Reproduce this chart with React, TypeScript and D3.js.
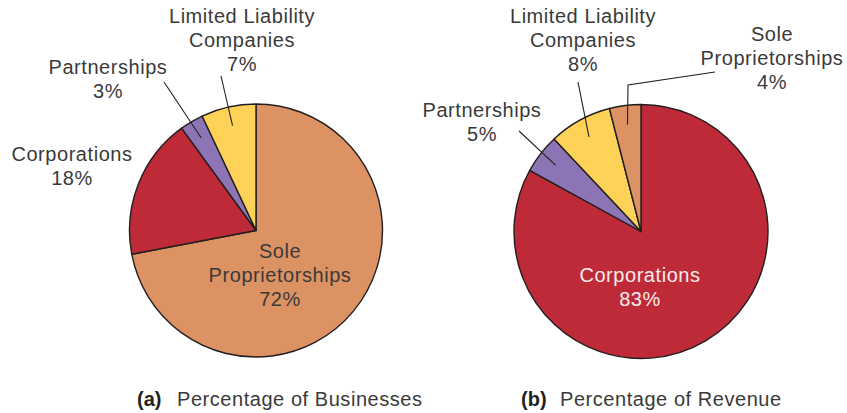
import React from "react";
import * as d3 from "d3";

const categoriesA = ["Sole Proprietorships", "Corporations", "Partnerships", "Limited Liability Companies"];
const valuesA = [72, 18, 3, 7];
const categoriesB = ["Corporations", "Partnerships", "Limited Liability Companies", "Sole Proprietorships"];
const valuesB = [83, 5, 8, 4];
const captionTags = ["(a)", "(b)"];
const captionTexts = ["Percentage of Businesses", "Percentage of Revenue"];

const colorMap: Record<string, string> = {
  "Sole Proprietorships": "#DC9263",
  "Corporations": "#BE2A38",
  "Partnerships": "#8D75B5",
  "Limited Liability Companies": "#FDD257",
};

const TEXT = "#3a3a3a";
const FONT = "'Liberation Sans', Arial, Helvetica, sans-serif";
const FS = 20;
const LS = 0.55;

type LabelSpec = {
  lines: string[];
  x: number;
  y: number; // baseline of first line
  color?: string;
  leader?: [number, number][];
};

function Pie({
  cats, vals, cx, cy, r, labels,
}: {
  cats: string[]; vals: number[]; cx: number; cy: number; r: number;
  labels: Record<string, LabelSpec>;
}) {
  const pie = d3.pie<number>().sort(null).value((d) => d)(vals);
  const arc = d3.arc<d3.PieArcDatum<number>>().innerRadius(0).outerRadius(r);
  const inner = d3.arc<d3.PieArcDatum<number>>().innerRadius(r * 0.85).outerRadius(r * 0.85);
  return (
    <g>
      <g transform={`translate(${cx},${cy})`}>
        {pie.map((p, i) => (
          <path key={i} d={arc(p) || ""} fill={colorMap[cats[i]]} stroke="#231f20" strokeWidth={1.4} strokeLinejoin="round" />
        ))}
      </g>
      {pie.map((p, i) => {
        const lab = labels[cats[i]];
        if (!lab || !lab.leader) return null;
        const c = inner.centroid(p);
        const pts = [...lab.leader, [cx + c[0], cy + c[1]]];
        return (
          <polyline key={"l" + i} points={pts.map((q) => q.join(",")).join(" ")} fill="none" stroke="#231f20" strokeWidth={1.1} />
        );
      })}
      {pie.map((p, i) => {
        const lab = labels[cats[i]];
        if (!lab) return null;
        return (
          <text key={"t" + i} x={lab.x} y={lab.y} textAnchor="middle" fontFamily={FONT} fontSize={FS} letterSpacing={LS} fill={lab.color || TEXT}>
            {lab.lines.map((ln, j) => (
              <tspan key={j} x={lab.x} dy={j === 0 ? 0 : 24}>{ln}</tspan>
            ))}
          </text>
        );
      })}
    </g>
  );
}

export default function App() {
  const labelsA: Record<string, LabelSpec> = {
    "Sole Proprietorships": { lines: ["Sole", "Proprietorships", `${valuesA[0]}%`], x: 280, y: 258 },
    "Corporations": { lines: ["Corporations", `${valuesA[1]}%`], x: 72, y: 161 },
    "Partnerships": { lines: ["Partnerships", `${valuesA[2]}%`], x: 108, y: 74, leader: [[164, 82]] },
    "Limited Liability Companies": { lines: ["Limited Liability", "Companies", `${valuesA[3]}%`], x: 242, y: 23, leader: [[221, 76]] },
  };
  const labelsB: Record<string, LabelSpec> = {
    "Corporations": { lines: ["Corporations", `${valuesB[0]}%`], x: 640, y: 282, color: "#f7ecec" },
    "Partnerships": { lines: ["Partnerships", `${valuesB[1]}%`], x: 482, y: 117, leader: [[519, 131]] },
    "Limited Liability Companies": { lines: ["Limited Liability", "Companies", `${valuesB[2]}%`], x: 583, y: 23, leader: [[578, 82]] },
    "Sole Proprietorships": { lines: ["Sole", "Proprietorships", `${valuesB[3]}%`], x: 772, y: 41, leader: [[715, 72], [628, 85]] },
  };
  const captions = [
    { x: 137, tx: 177 },
    { x: 521, tx: 560 },
  ];
  return (
    <svg width={847} height={413} style={{ position: "absolute", left: 0, top: 0, background: "#fff" }}>
      <rect width={847} height={413} fill="#fff" />
      <Pie cats={categoriesA} vals={valuesA} cx={256} cy={230.5} r={126.5} labels={labelsA} />
      <Pie cats={categoriesB} vals={valuesB} cx={641} cy={231.5} r={127} labels={labelsB} />
      {captions.map((c, i) => (
        <g key={i}>
          <text x={c.x} y={406} fontFamily={FONT} fontSize={FS} fontWeight="bold" fill="#231f20">{captionTags[i]}</text>
          <text x={c.tx} y={406} fontFamily={FONT} fontSize={FS} letterSpacing={LS} fill={TEXT}>{captionTexts[i]}</text>
        </g>
      ))}
    </svg>
  );
}
